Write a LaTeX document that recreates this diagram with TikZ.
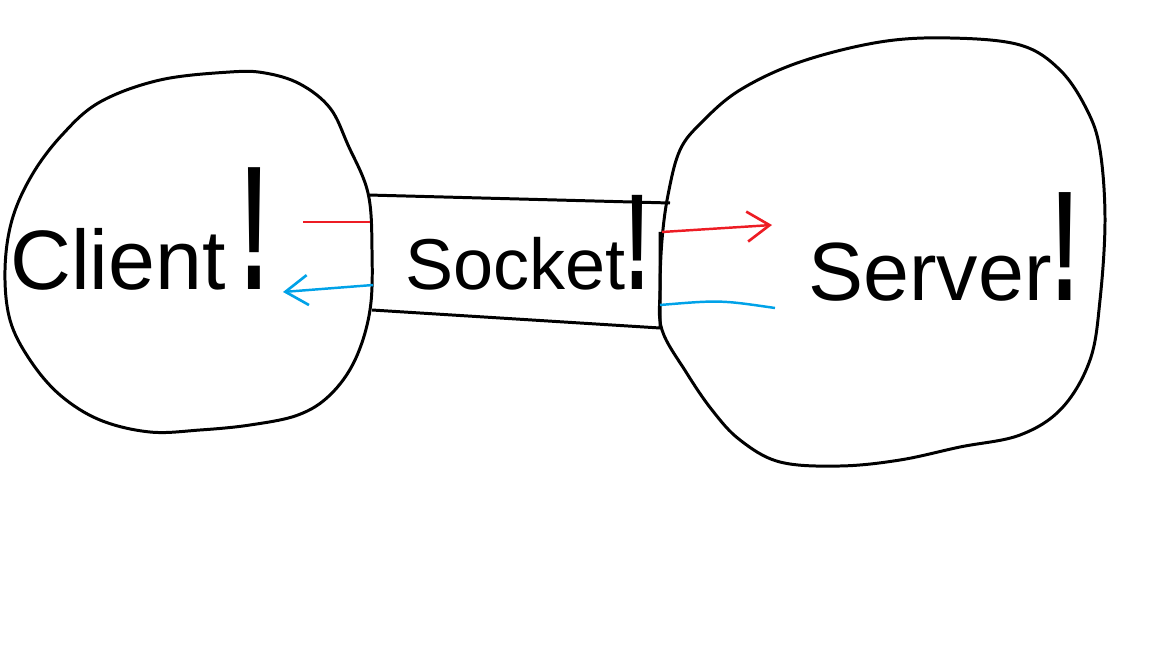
\documentclass[tikz,border=0pt]{standalone}
\usepackage{fontspec}
\usepackage{graphicx}
\setmainfont{Liberation Sans}
\usetikzlibrary{arrows.meta}

\newcommand{\bang}[1]{\scalebox{1}[#1]{\bfseries !}}

\tikzset{
	blob/.style = {line width = 1.7pt , line join = round},
	label/.style = {anchor = base west , inner sep = 0pt},
	outgoing/.style = {draw = paintred , line width = 1.4pt},
	incoming/.style = {draw = paintblue , line width = 1.4pt},
	tip/.style = {-{Straight Barb[length = 0.45cm , width = 0.6cm , line width = 1.5pt]}}
}
\definecolor{paintred}{HTML}{ED1C24}
\definecolor{paintblue}{HTML}{00A2E8}

\begin{document}
\begin{tikzpicture}[x = 0.02cm , y = -0.02cm]
				\useasboundingbox (0,0) rectangle (1152,648);
				% client side
				\draw[blob] plot[smooth cycle , tension = 0.6] coordinates
					{ (230,72) (265,73) (300,84) (330,108) (348,145) (368,193) (372,250) (370,310)
					  (355,360) (330,395) (298,415) (250,425) (200,430) (150,432) (100,420)
					  (60,395) (30,360) (10,320) (5,270) (12,220) (32,175) (62,135) (100,102) (160,80) } ;
				% server side
				\draw[blob] plot[smooth cycle , tension = 0.6] coordinates
					{ (880,42) (950,38) (1020,45) (1060,70) (1087,110) (1100,150) (1105,220) (1100,300)
					  (1090,360) (1062,408) (1020,435) (960,447) (900,460) (840,466) (780,462)
					  (740,440) (712,410) (686,372) (662,330) (660,290) (662,240) (668,195)
					  (680,150) (702,122) (740,90) (800,62) } ;
				% socket
				\coordinate (sockTL) at (368,195) ;
				\coordinate (sockTR) at (670,203) ;
				\coordinate (sockBR) at (660,328) ;
				\coordinate (sockBL) at (372,310) ;
				\draw[blob] (sockTL) -- (sockTR) (sockBL) -- (sockBR) -- (660,232) ;
				% labels
				\node[label , font = \fontsize{48}{48}\selectfont] (client) at (10,290) {Client\,\bang{2.1}} ;
				\node[label , font = \fontsize{41}{41}\selectfont] (socket) at (405,290) {Socket\bang{1.9}} ;
				\node[label , font = \fontsize{47}{47}\selectfont] (server) at (808,301) {Server\bang{1.9}} ;
				% messages
				\coordinate (cRedA) at (303,222) ;
				\coordinate (cRedB) at (370,222) ;
				\coordinate (cBlueA) at (373,285) ;
				\coordinate (cBlueB) at (283,292) ;
				\coordinate (sRedA) at (662,232) ;
				\coordinate (sRedB) at (772,225) ;
				\coordinate (sBlueA) at (660,305) ;
				\coordinate (sBlueB) at (775,308) ;
				\draw[outgoing] (cRedA) -- (cRedB) ;
				\draw[incoming , tip] (cBlueA) -- (cBlueB) ;
				\draw[outgoing , tip] (sRedA) -- (sRedB) ;
				\draw[incoming] (sBlueA) .. controls (720,300) .. (sBlueB) ;
			\end{tikzpicture}
\end{document}
